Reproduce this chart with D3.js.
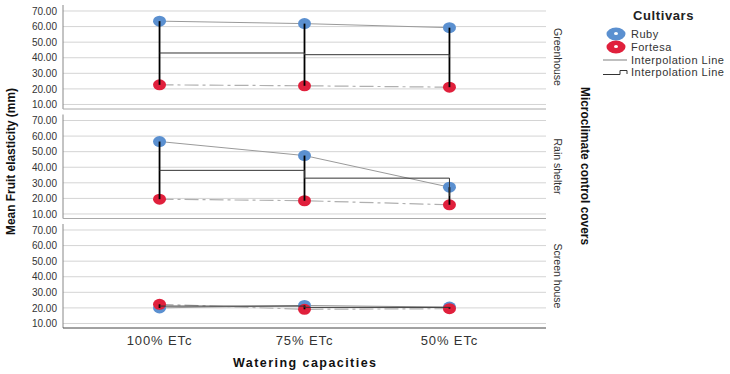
<!DOCTYPE html>
<html><head><meta charset="utf-8">
<script src="https://cdn.jsdelivr.net/npm/d3@7"></script>
<style>body{margin:0;background:#fff}svg{display:block;font-family:Arial,"Liberation Sans",sans-serif}</style>
</head><body>
<svg id="c" width="730" height="374"></svg>
<script>
const categories = ["100% ETc", "75% ETc", "50% ETc"];
const covers = ["Greenhouse", "Rain shelter", "Screen house"];
const rubyValues = [[63.5, 61.9, 59.3], [56.5, 47.5, 27.2], [20.0, 21.6, 20.5]];
const fortesaValues = [[22.6, 22.0, 21.1], [19.5, 18.5, 15.9], [22.3, 19.1, 19.5]];
const yTicks = [10, 20, 30, 40, 50, 60, 70];
const cultivars = ["Ruby", "Fortesa"];
const colors = {Ruby: "#5b90d0", Fortesa: "#e0203c"};

const svg = d3.select("#c");
const left = 63, right = 546, panelH = 104;
const panelTops = [5, 114.5, 224];
const x = d3.scalePoint().domain(categories).range([left, right]).padding(0.666);

covers.forEach((cov, i) => {
  const top = panelTops[i];
  const y = d3.scaleLinear().domain([7.1, 73.85]).range([top + panelH, top]);
  const g = svg.append("g");
  g.selectAll("line.grid").data(yTicks).join("line")
    .attr("x1", left).attr("x2", right).attr("y1", d => y(d)).attr("y2", d => y(d))
    .attr("stroke", "#d4d4d4").attr("stroke-width", 1);
  const ax = g.append("g").attr("transform", `translate(${left},0)`)
    .call(d3.axisLeft(y).tickValues(yTicks).tickFormat(d3.format(".2f")).tickSize(0).tickPadding(6));
  ax.select(".domain").remove();
  ax.selectAll("text").attr("font-size", 10).attr("fill", "#333");
  g.append("line").attr("x1", left).attr("x2", left).attr("y1", top).attr("y2", top + panelH)
    .attr("stroke", "#888");
  g.append("line").attr("x1", left).attr("x2", right).attr("y1", top + panelH).attr("y2", top + panelH)
    .attr("stroke", i === 2 ? "#444" : "#aaa");

  const ruby = categories.map((c, j) => [x(c), y(rubyValues[i][j])]);
  const fort = categories.map((c, j) => [x(c), y(fortesaValues[i][j])]);
  const line = d3.line();
  g.append("path").attr("d", line(ruby)).attr("fill", "none").attr("stroke", "#9a9a9a").attr("stroke-width", 1);
  g.append("path").attr("d", line(fort)).attr("fill", "none").attr("stroke", "#b0b0b0").attr("stroke-width", 1.2)
    .attr("stroke-dasharray", "14,4,3,4");
  [[ruby, colors.Ruby], [fort, colors.Fortesa]].forEach(([pts, col]) => {
    g.selectAll(null).data(pts).join("ellipse")
      .attr("cx", d => d[0]).attr("cy", d => d[1]).attr("rx", 6.5).attr("ry", 5.5).attr("fill", col);
  });
  g.selectAll(null).data(categories).join("line")
    .attr("x1", (c) => x(c)).attr("x2", c => x(c))
    .attr("y1", (c, j) => y(rubyValues[i][j])).attr("y2", (c, j) => y(fortesaValues[i][j]))
    .attr("stroke", "#000").attr("stroke-width", 1.8);
  const means = categories.map((c, j) => [x(c), y((rubyValues[i][j] + fortesaValues[i][j]) / 2)]);
  g.append("path").attr("d", d3.line().curve(d3.curveStepAfter)(means))
    .attr("fill", "none").attr("stroke", "#333").attr("stroke-width", 1);
  g.append("text").attr("transform", `translate(554,${top + panelH / 2}) rotate(90)`)
    .attr("text-anchor", "middle").attr("font-size", 10.5).attr("fill", "#333").text(cov);
});

const lastBottom = panelTops[2] + panelH;
svg.append("g").selectAll("text").data(categories).join("text")
  .attr("x", d => x(d)).attr("y", lastBottom + 17).attr("text-anchor", "middle")
  .attr("font-size", 13).attr("letter-spacing", 0.9).attr("fill", "#333").text(d => d);

svg.append("text").attr("x", 233).attr("y", 367)
  .attr("font-size", 12.5).attr("font-weight", "bold").attr("fill", "#111")
  .attr("textLength", 143).attr("lengthAdjust", "spacing").text("Watering capacities");
svg.append("text").attr("transform", "translate(15,235) rotate(-90)")
  .attr("font-size", 12).attr("font-weight", "bold").attr("fill", "#111")
  .attr("textLength", 147).attr("lengthAdjust", "spacingAndGlyphs").text("Mean Fruit elasticity (mm)");
svg.append("text").attr("transform", "translate(581,87) rotate(90)")
  .attr("font-size", 12.5).attr("font-weight", "bold").attr("fill", "#111")
  .attr("textLength", 158).attr("lengthAdjust", "spacingAndGlyphs").text("Microclimate control covers");

const lg = svg.append("g");
lg.append("text").attr("x", 633).attr("y", 20).attr("font-size", 13).attr("font-weight", "bold")
  .attr("letter-spacing", 0.6).attr("fill", "#222").text("Cultivars");
cultivars.forEach((c, k) => {
  const cy = 34 + k * 13;
  lg.append("ellipse").attr("cx", 616).attr("cy", cy).attr("rx", 9.5).attr("ry", 6.5).attr("fill", colors[c]);
  lg.append("ellipse").attr("cx", 616).attr("cy", cy - 0.5).attr("rx", 2).attr("ry", 1.5).attr("fill", "#fff");
  lg.append("text").attr("x", 631).attr("y", cy + 4).attr("font-size", 11).attr("letter-spacing", 0.5)
    .attr("fill", "#333").text(c);
});
lg.append("line").attr("x1", 603).attr("x2", 627).attr("y1", 60).attr("y2", 60).attr("stroke", "#aaa").attr("stroke-width", 1.5);
lg.append("text").attr("x", 631).attr("y", 64).attr("font-size", 11).attr("letter-spacing", 0.5)
  .attr("fill", "#333").text("Interpolation Line");
lg.append("path").attr("d", "M603,74.5H620V70.5H627V74").attr("fill", "none").attr("stroke", "#333").attr("stroke-width", 1);
lg.append("text").attr("x", 631).attr("y", 76).attr("font-size", 11).attr("letter-spacing", 0.5)
  .attr("fill", "#333").text("Interpolation Line");
</script>
</body></html>
